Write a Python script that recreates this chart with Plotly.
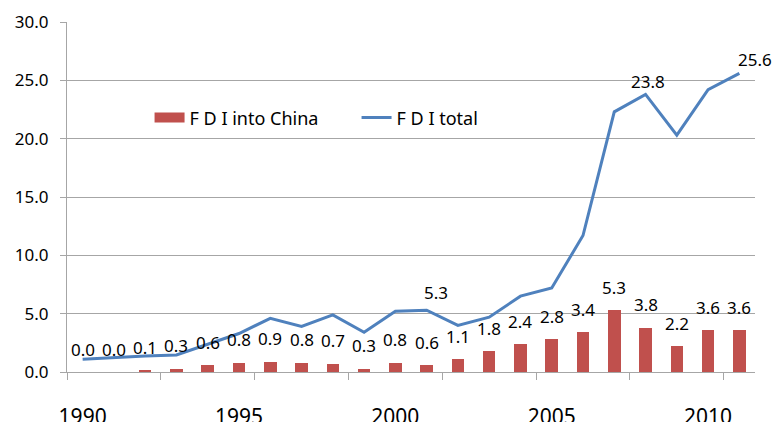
import plotly.graph_objects as go

# FDI figures (billions), 1990-2011
years = list(range(1990, 2012))
fdi_into_china = [0.0, 0.0, 0.1, 0.3, 0.6, 0.8, 0.9, 0.8, 0.7, 0.3, 0.8,
                  0.6, 1.1, 1.8, 2.4, 2.8, 3.4, 5.3, 3.8, 2.2, 3.6, 3.6]
fdi_total = [1.1, 1.26, 1.37, 1.46, 2.4, 3.3, 4.6, 3.9, 4.9, 3.4, 5.2,
             5.3, 4.0, 4.7, 6.5, 7.2, 11.7, 22.3, 23.8, 20.3, 24.2, 25.6]
# years on the total line that carry a value label
total_labelled_years = [2001, 2008, 2011]

x_label_years = [1990, 1995, 2000, 2005, 2010]
y_tick_vals = [0, 5, 10, 15, 20, 25, 30]

BAR_RED = "#C0504D"
LINE_BLUE = "#4F81BD"
GRID = "#A6A6A6"
FONT = "Noto Sans"

fig = go.Figure()
fig.add_trace(go.Bar(
    x=years, y=fdi_into_china, name="F D I into China",
    marker=dict(color=BAR_RED, line=dict(width=0)), width=0.4,
    legendgroup="china", showlegend=False,
))
# wide flat swatch for the bar series in the legend
fig.add_trace(go.Scatter(
    x=[None], y=[None], name="F D I into China", mode="lines",
    line=dict(color=BAR_RED, width=11), legendgroup="china",
))
fig.add_trace(go.Scatter(
    x=years, y=fdi_total, name="F D I total", mode="lines",
    line=dict(color=LINE_BLUE, width=3),
))

annotations = []
for yr, v in zip(years, fdi_into_china):
    annotations.append(dict(
        x=yr, y=v, text=f"{v:.1f}", showarrow=False,
        yanchor="middle", xanchor="center", yshift=23,
        font=dict(family=FONT, size=17, color="#000"),
    ))
line_label_shift = {2001: (9, 18), 2008: (2, 13), 2011: (16, 14)}
for yr, v in zip(years, fdi_total):
    if yr in total_labelled_years:
        dx, dy = line_label_shift[yr]
        annotations.append(dict(
            x=yr, y=v, text=f"{v:.1f}", showarrow=False,
            yanchor="middle", xanchor="center", xshift=dx, yshift=dy,
            font=dict(family=FONT, size=17, color="#000"),
        ))

fig.update_layout(
    width=776, height=422,
    margin=dict(l=67, r=21, t=22, b=50),
    paper_bgcolor="white", plot_bgcolor="white",
    font=dict(family=FONT, size=17, color="#000"),
    showlegend=True,
    legend=dict(
        orientation="h", x=0.12, xanchor="left", y=0.726, yanchor="middle",
        bgcolor="rgba(0,0,0,0)", font=dict(family=FONT, size=18, color="#000"),
        entrywidth=162, traceorder="normal",
    ),
    annotations=annotations,
    bargap=0,
)

fig.update_xaxes(
    range=[1989.5, 2011.5], automargin=False,
    tickvals=x_label_years, ticktext=[str(y) for y in x_label_years],
    ticks="", showgrid=False, zeroline=False,
    showline=True, linecolor=GRID, linewidth=1,
    tickfont=dict(family=FONT, size=21, color="#000"),
    ticklabelstandoff=26,
    minor=dict(tickvals=[1989.5 + 3 * k for k in range(8)],
               ticks="outside", ticklen=7, tickcolor=GRID, showgrid=False),
)
fig.update_yaxes(
    range=[0, 30], tickvals=y_tick_vals, tickformat=".1f", automargin=False,
    showgrid=True, gridcolor=GRID, gridwidth=1, zeroline=False,
    showline=True, linecolor=GRID, linewidth=1,
    ticks="outside", ticklen=6, tickcolor=GRID,
    tickfont=dict(family=FONT, size=17, color="#000"),
    ticklabelstandoff=8,
)

fig.write_html("out.html")
